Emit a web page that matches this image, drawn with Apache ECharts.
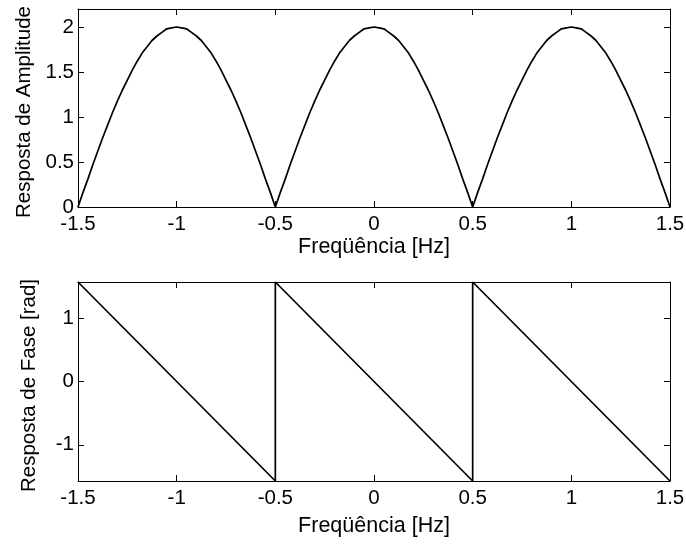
<!DOCTYPE html>
<html>
<head>
<meta charset="utf-8">
<script src="https://cdn.jsdelivr.net/npm/echarts@6/dist/echarts.min.js"></script>
<style>
  html, body { margin: 0; padding: 0; background: #fff; }
  #chart { width: 686px; height: 544px; }
</style>
</head>
<body>
<div id="chart"></div>
<script>
// Frequency samples (Hz) for the magnitude curve
const freq = [
  -1.5, -1.475, -1.45, -1.425, -1.4, -1.375, -1.35, -1.325, -1.3, -1.275,
  -1.25, -1.225, -1.2, -1.175, -1.15, -1.125, -1.1, -1.075, -1.05, -1.025,
  -1, -0.975, -0.95, -0.925, -0.9, -0.875, -0.85, -0.825, -0.8, -0.775,
  -0.75, -0.725, -0.7, -0.675, -0.65, -0.625, -0.6, -0.575, -0.55, -0.525,
  -0.5, -0.475, -0.45, -0.425, -0.4, -0.375, -0.35, -0.325, -0.3, -0.275,
  -0.25, -0.225, -0.2, -0.175, -0.15, -0.125, -0.1, -0.075, -0.05, -0.025,
  0, 0.025, 0.05, 0.075, 0.1, 0.125, 0.15, 0.175, 0.2, 0.225,
  0.25, 0.275, 0.3, 0.325, 0.35, 0.375, 0.4, 0.425, 0.45, 0.475,
  0.5, 0.525, 0.55, 0.575, 0.6, 0.625, 0.65, 0.675, 0.7, 0.725,
  0.75, 0.775, 0.8, 0.825, 0.85, 0.875, 0.9, 0.925, 0.95, 0.975,
  1, 1.025, 1.05, 1.075, 1.1, 1.125, 1.15, 1.175, 1.2, 1.225,
  1.25, 1.275, 1.3, 1.325, 1.35, 1.375, 1.4, 1.425, 1.45, 1.475,
  1.5
];

// Amplitude response at each frequency sample
const amplitude = [
  0, 0.16, 0.31, 0.47, 0.62, 0.77, 0.91, 1.05, 1.18, 1.30,
  1.41, 1.52, 1.62, 1.71, 1.78, 1.85, 1.90, 1.94, 1.98, 1.99,
  2.00, 1.99, 1.98, 1.94, 1.90, 1.85, 1.78, 1.71, 1.62, 1.52,
  1.41, 1.30, 1.18, 1.05, 0.91, 0.77, 0.62, 0.47, 0.31, 0.16,
  0, 0.16, 0.31, 0.47, 0.62, 0.77, 0.91, 1.05, 1.18, 1.30,
  1.41, 1.52, 1.62, 1.71, 1.78, 1.85, 1.90, 1.94, 1.98, 1.99,
  2.00, 1.99, 1.98, 1.94, 1.90, 1.85, 1.78, 1.71, 1.62, 1.52,
  1.41, 1.30, 1.18, 1.05, 0.91, 0.77, 0.62, 0.47, 0.31, 0.16,
  0, 0.16, 0.31, 0.47, 0.62, 0.77, 0.91, 1.05, 1.18, 1.30,
  1.41, 1.52, 1.62, 1.71, 1.78, 1.85, 1.90, 1.94, 1.98, 1.99,
  2.00, 1.99, 1.98, 1.94, 1.90, 1.85, 1.78, 1.71, 1.62, 1.52,
  1.41, 1.30, 1.18, 1.05, 0.91, 0.77, 0.62, 0.47, 0.31, 0.16,
  0
];

// Phase response: linear segments with jumps at +/-0.5 Hz
const phaseFreq = [-1.5, -0.5, -0.5, 0.5, 0.5, 1.5];
const phase = [1.5708, -1.5708, 1.5708, -1.5708, 1.5708, -1.5708];

// Tick positions
const freqTicks = [-1.5, -1, -0.5, 0, 0.5, 1, 1.5];
const ampTicks = [0, 0.5, 1, 1.5, 2];
const phaseTicks = [-1, 0, 1];

const FONT = '"Liberation Sans", Arial, Helvetica, sans-serif';
const zip = (xs, ys) => xs.map((x, i) => [x, ys[i]]);

function xAxisPair(gridIndex, nameGap) {
  const common = {
    gridIndex, type: 'value', min: -1.5, max: 1.5,
    axisLine: { show: true, onZero: false, lineStyle: { color: '#000', width: 1 } },
    splitLine: { show: false }
  };
  return [
    Object.assign({}, common, {
      position: 'bottom',
      name: 'Freqüência [Hz]', nameLocation: 'middle', nameGap,
      nameTextStyle: { fontFamily: FONT, fontSize: 21.5, color: '#000' },
      axisTick: { show: true, inside: true, length: 6, customValues: freqTicks, lineStyle: { color: '#000' } },
      axisLabel: { show: true, margin: 7, fontFamily: FONT, fontSize: 20.5, color: '#000', customValues: freqTicks }
    }),
    Object.assign({}, common, {
      position: 'top',
      axisTick: { show: true, inside: true, length: 6, customValues: freqTicks, lineStyle: { color: '#000' } },
      axisLabel: { show: false }
    })
  ];
}

function yAxisPair(gridIndex, min, max, ticks, name, nameGap) {
  const common = {
    gridIndex, type: 'value', min, max,
    axisLine: { show: true, onZero: false, lineStyle: { color: '#000', width: 1 } },
    splitLine: { show: false }
  };
  return [
    Object.assign({}, common, {
      position: 'left',
      name, nameLocation: 'middle', nameGap,
      nameTextStyle: { fontFamily: FONT, fontSize: 20.5, color: '#000', padding: [0, 8, 0, 0] },
      axisTick: { show: true, inside: true, length: 6, customValues: ticks, lineStyle: { color: '#000' } },
      axisLabel: { show: true, margin: 4, fontFamily: FONT, fontSize: 20.5, color: '#000', customValues: ticks }
    }),
    Object.assign({}, common, {
      position: 'right',
      axisTick: { show: true, inside: true, length: 6, customValues: ticks, lineStyle: { color: '#000' } },
      axisLabel: { show: false }
    })
  ];
}

const chart = echarts.init(document.getElementById('chart'), null, { renderer: 'canvas' });

chart.setOption({
  backgroundColor: '#fff',
  animation: false,
  grid: [
    { left: 78, top: 9, width: 592, height: 198, outerBoundsMode: 'none', containLabel: false },
    { left: 78, top: 282, width: 592, height: 199, outerBoundsMode: 'none', containLabel: false }
  ],
  xAxis: [].concat(xAxisPair(0, 27), xAxisPair(1, 34)),
  yAxis: [].concat(
    yAxisPair(0, 0, 2.2, ampTicks, 'Resposta de Amplitude', 38),
    yAxisPair(1, -1.5708, 1.5708, phaseTicks, 'Resposta de Fase [rad]', 38)
  ),
  series: [
    {
      type: 'line', xAxisIndex: 0, yAxisIndex: 0,
      data: zip(freq, amplitude),
      showSymbol: false, symbol: 'none',
      lineStyle: { color: '#000', width: 1.7 },
      clip: false
    },
    {
      type: 'line', xAxisIndex: 2, yAxisIndex: 2,
      data: zip(phaseFreq, phase),
      showSymbol: false, symbol: 'none',
      lineStyle: { color: '#000', width: 1.7 },
      clip: false
    }
  ]
});
</script>
</body>
</html>
